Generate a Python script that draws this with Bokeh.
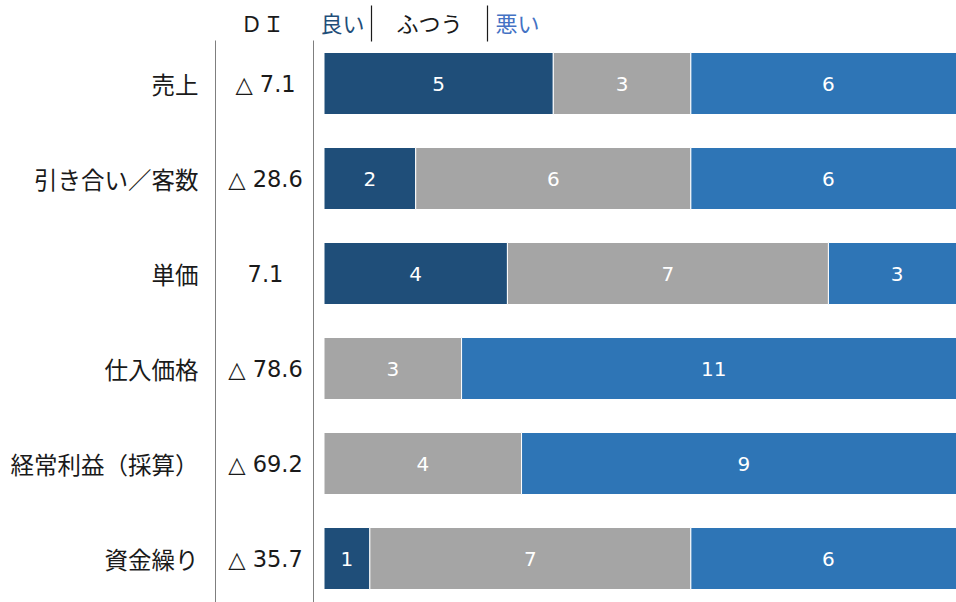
from bokeh.plotting import figure
from bokeh.models import Range1d, ColumnDataSource
from bokeh.core.properties import value
from bokeh.embed import file_html
from bokeh.resources import INLINE

categories = ["売上", "引き合い／客数", "単価", "仕入価格", "経常利益（採算）", "資金繰り"]
good = [5, 2, 4, 0, 0, 1]
normal = [3, 6, 7, 3, 4, 7]
bad = [6, 6, 3, 11, 9, 6]
di_labels = ["△ 7.1", "△ 28.6", "7.1", "△ 78.6", "△ 69.2", "△ 35.7"]
header_labels = ["ＤＩ", "良い", "ふつう", "悪い"]

C_GOOD = "#1F4E79"
C_NORM = "#A5A5A5"
C_BAD = "#2E75B6"
LAT = "DejaVu Sans"
CJK = "Noto Sans CJK JP"

W, H = 956, 602
X0, BW = 323.5, 642.0          # bar area left pixel and full bar width
Y0, DY = 83.0, 95.0            # first row center pixel and row step

def px(xpix):
    return (xpix - X0) / BW

def py(ypix):
    return (ypix - Y0) / DY

p = figure(width=W, height=H, output_backend="svg", toolbar_location=None,
           x_range=Range1d(px(0), px(W)), y_range=Range1d(py(H), py(0)),
           min_border=0, outline_line_color=None)
p.axis.visible = False
p.grid.visible = False
p.background_fill_color = "white"
p.border_fill_color = "white"

n = len(categories)
ys = list(range(n))
tot = [g + m + b for g, m, b in zip(good, normal, bad)]
g_end = [g / t for g, t in zip(good, tot)]
m_end = [(g + m) / t for g, m, t in zip(good, normal, tot)]

src = ColumnDataSource(dict(y=ys, zero=[0] * n, g_end=g_end, m_end=m_end, one=[1] * n))

bh = 62.0 / DY
p.hbar(y="y", left="zero", right="g_end", height=bh, source=src,
       fill_color=C_GOOD, line_color="white", line_width=1)
p.hbar(y="y", left="g_end", right="m_end", height=bh, source=src,
       fill_color=C_NORM, line_color="white", line_width=1)
p.hbar(y="y", left="m_end", right="one", height=bh, source=src,
       fill_color=C_BAD, line_color="white", line_width=1)

# value labels centred in each segment
for vals, lefts, rights in [(good, [0] * n, g_end), (normal, g_end, m_end), (bad, m_end, [1] * n)]:
    xs, yy, tx = [], [], []
    for i in range(n):
        if vals[i] > 0:
            xs.append((lefts[i] + rights[i]) / 2)
            yy.append(i)
            tx.append(str(vals[i]))
    p.text(x=xs, y=yy, text=tx, text_color="white", text_font=value(LAT),
           text_font_size="20px", text_align="center", text_baseline="middle")

# category labels
p.text(x=[px(198)] * n, y=ys, text=categories, text_color="#1a1a1a", text_font=value(CJK),
       text_font_size="23.5px", text_align="right", text_baseline="middle")
# DI labels
p.text(x=[px(265)] * n, y=ys, text=di_labels, text_color="#1a1a1a", text_font=value(LAT),
       text_font_size="22.5px", text_align="center", text_baseline="middle")

# vertical divider lines
for xp in (215, 313):
    p.segment(x0=[px(xp)], y0=[py(40)], x1=[px(xp)], y1=[py(H)], line_color="#7f7f7f", line_width=1)
for xp in (371, 487):
    p.segment(x0=[px(xp)], y0=[py(5)], x1=[px(xp)], y1=[py(41)], line_color="#1a1a1a", line_width=1.2)

# header
hx = [px(262), px(342), px(429), px(517)]
hc = ["#1a1a1a", C_GOOD, "#1a1a1a", "#4472C4"]
p.text(x=hx, y=[py(21)] * 4, text=header_labels, text_color=hc, text_font=value(CJK),
       text_font_size="22px", text_align="center", text_baseline="middle")

open("out.html", "w").write(file_html(p, INLINE))
